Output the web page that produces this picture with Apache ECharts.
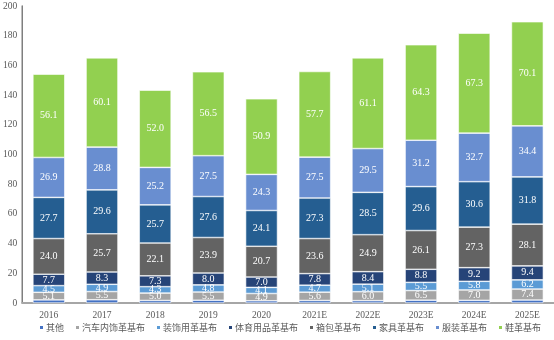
<!DOCTYPE html>
<html><head><meta charset="utf-8">
<script src="https://cdn.jsdelivr.net/npm/echarts@6/dist/echarts.min.js"></script>
<style>html,body{margin:0;padding:0;background:#fff}#c{width:554px;height:340px}</style>
</head><body><div id="c"></div>
<script>
var categories = ['2016','2017','2018','2019','2020','2021E','2022E','2023E','2024E','2025E'];
var seriesNames = ['其他','汽车内饰革基布','装饰用革基布','体育用品革基布','箱包革基布','家具革基布','服装革基布','鞋革基布'];
var other    = [2.1,2.2,1.7,1.9,1.5,1.7,1.6,1.9,1.8,2.0];
var auto     = [5.1,5.5,5.0,5.5,4.9,5.6,6.0,6.5,7.0,7.4];
var decor    = [4.5,4.9,4.3,4.8,4.1,4.7,5.1,5.5,5.8,6.2];
var sports   = [7.7,8.3,7.3,8.0,7.0,7.8,8.4,8.8,9.2,9.4];
var bags     = [24.0,25.7,22.1,23.9,20.7,23.6,24.9,26.1,27.3,28.1];
var furniture= [27.7,29.6,25.7,27.6,24.1,27.3,28.5,29.6,30.6,31.8];
var apparel  = [26.9,28.8,25.2,27.5,24.3,27.5,29.5,31.2,32.7,34.4];
var shoes    = [56.1,60.1,52.0,56.5,50.9,57.7,61.1,64.3,67.3,70.1];
var yTicks = {min:0, max:200, interval:20};
var colors = ['#4472c4','#a5a5a5','#5b9bd5','#264478','#636363','#255e91','#698ed0','#92d050'];
var dataSets = [other, auto, decor, sports, bags, furniture, apparel, shoes];

var chart = echarts.init(document.getElementById('c'), null, {renderer:'canvas'});
var series = dataSets.map(function(d, i){
  return {
    name: seriesNames[i], type:'bar', stack:'total', data:d, barWidth:'60%',
    itemStyle:{color:colors[i], borderColor:'#ffffff', borderWidth:0.6},
    label:{show:i>0, position:'inside', color:'#ffffff', fontFamily:'Liberation Serif', fontSize:10,
      formatter:function(p){return p.value.toFixed(1);}}
  };
});
chart.setOption({
  animation:false,
  color:colors,
  grid:{left:22, right:-4, top:6, bottom:37, containLabel:false},
  legend:{bottom:3, left:33, itemWidth:5, itemHeight:5, itemGap:10, icon:'rect',
    textStyle:{fontSize:9, color:'#595959', fontFamily:'Noto Sans CJK SC', padding:[0,0,0,-3]},
    data:seriesNames},
  xAxis:{type:'category', data:categories,
    axisLine:{lineStyle:{color:'#a6a6a6', width:2}}, axisTick:{show:false},
    axisLabel:{color:'#595959', fontFamily:'Liberation Serif', fontSize:9.5, margin:7}},
  yAxis:{type:'value', min:yTicks.min, max:yTicks.max, interval:yTicks.interval,
    axisLine:{show:true, lineStyle:{color:'#7f7f7f', width:1.5}}, axisTick:{show:false},
    splitLine:{show:false},
    axisLabel:{color:'#595959', fontFamily:'Liberation Serif', fontSize:9.5, margin:5}},
  series:series
});
</script></body></html>
